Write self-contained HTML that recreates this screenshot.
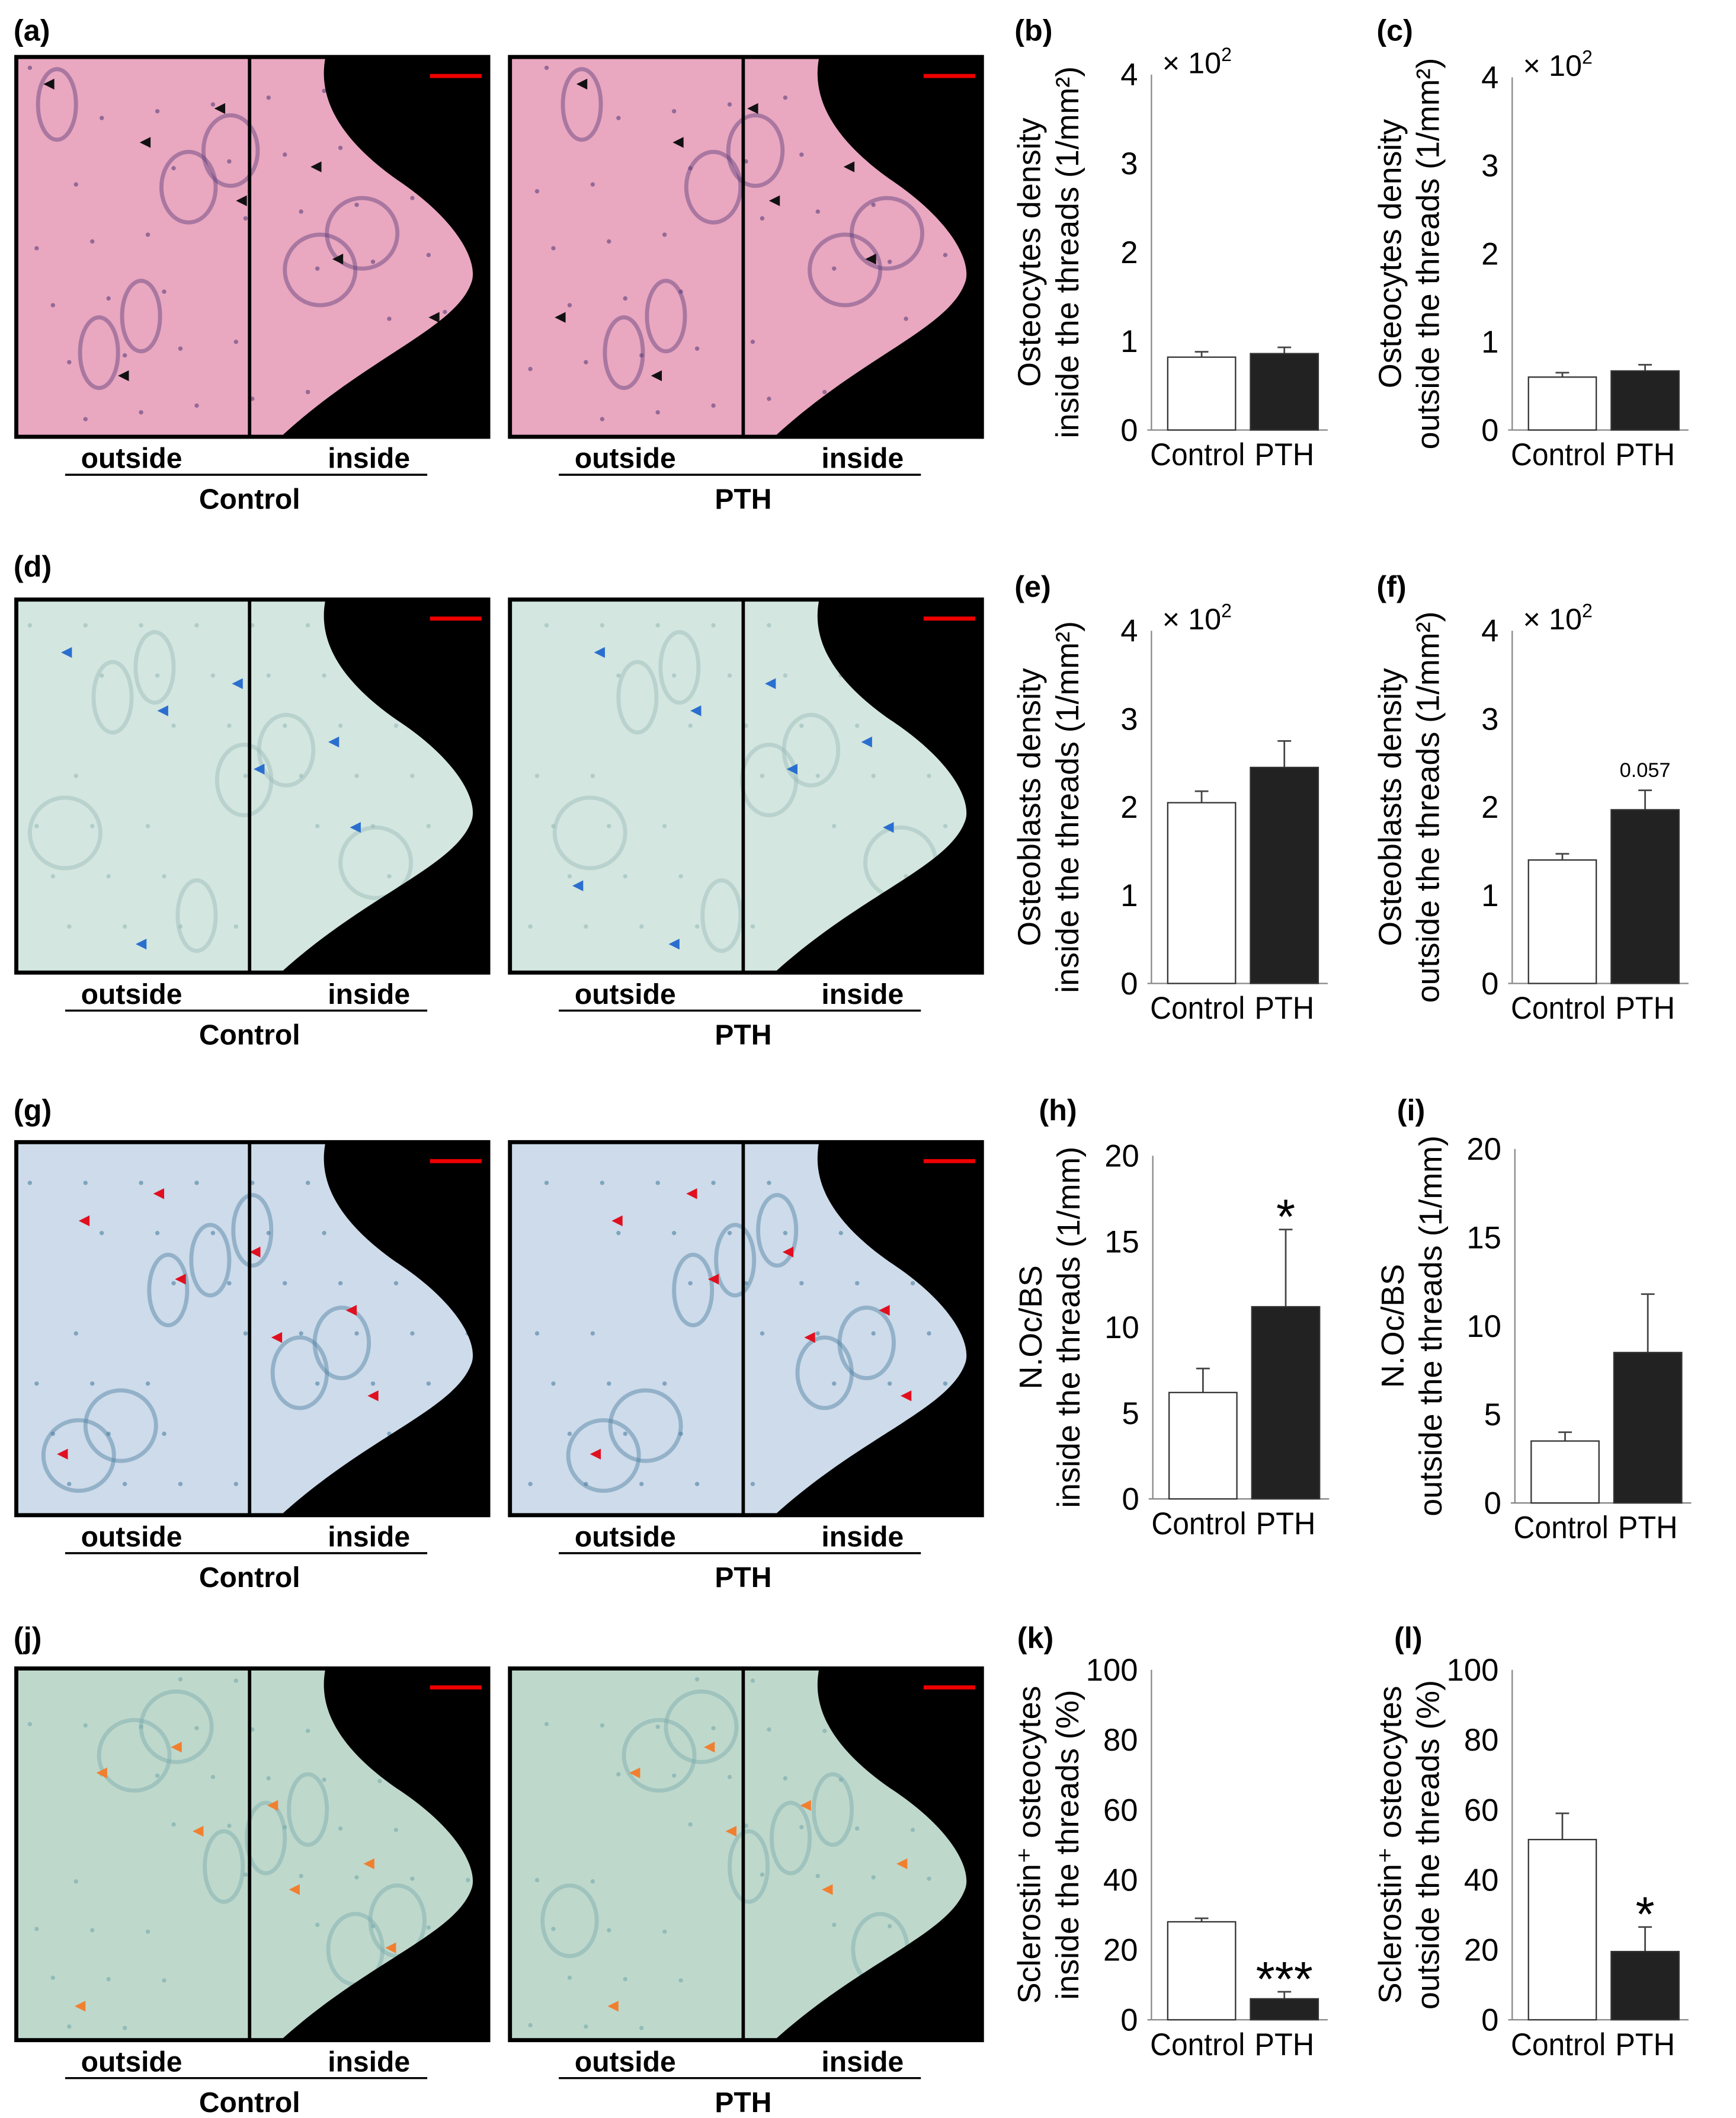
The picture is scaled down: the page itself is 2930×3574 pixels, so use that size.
<!DOCTYPE html>
<html><head><meta charset="utf-8"><style>
html,body{margin:0;padding:0;background:#fff}
svg{display:block}
text{font-family:"Liberation Sans",Arial,sans-serif}
</style></head><body>
<svg id="fig" xmlns="http://www.w3.org/2000/svg" width="2930" height="3574" viewBox="0 0 1280 1561.4">
<rect width="1280" height="1561.4" fill="#fff"/>
<g id="imgs"></g>
<g id="charts"></g>
</svg>
<script>
// ---- chart data ----
const panelLabels=["(b)","(c)","(e)","(f)","(h)","(i)","(k)","(l)"];
const categories=["Control","PTH"];
const controlValues=[0.82,0.60,2.05,1.40,6.2,3.5,28,51.5];
const pthValues=[0.86,0.67,2.45,1.97,11.2,8.5,6,19.5];
const controlErrors=[0.06,0.05,0.13,0.07,1.4,0.5,1,7.5];
const pthErrors=[0.07,0.07,0.30,0.22,4.5,3.3,2,7];
const yMaxes=[4,4,4,4,20,20,100,100];
const yTickLabels=[[0,1,2,3,4],[0,1,2,3,4],[0,1,2,3,4],[0,1,2,3,4],[0,5,10,15,20],[0,5,10,15,20],[0,20,40,60,80,100],[0,20,40,60,80,100]];
const annotations=["","","","0.057","*","","***","*"];
const titleLine1=["Osteocytes density","Osteocytes density","Osteoblasts density","Osteoblasts density","N.Oc/BS","N.Oc/BS","Sclerostin\u207A osteocytes","Sclerostin\u207A osteocytes"];
const titleLine2=["inside the threads (1/mm\u00B2)","outside the threads (1/mm\u00B2)","inside the threads (1/mm\u00B2)","outside the threads (1/mm\u00B2)","inside the threads (1/mm)","outside the threads (1/mm)","inside the threads (%)","outside the threads (%)"];
const hasMult=[1,1,1,1,0,0,0,0];

const NS="http://www.w3.org/2000/svg";
function mk(tag,attrs,parent,txt){const e=document.createElementNS(NS,tag);for(const k in attrs)e.setAttribute(k,attrs[k]);if(txt!==undefined)e.textContent=txt;parent.appendChild(e);return e;}

const geo=[
 {ax:849,top:55,bot:317,lx:748,ly:30},{ax:1115,top:57,bot:317,lx:1015,ly:30},
 {ax:849,top:465,bot:725,lx:748,ly:440},{ax:1115,top:465,bot:725,lx:1015,ly:440},
 {ax:850,top:852,bot:1105,lx:766,ly:826},{ax:1117,top:847,bot:1108,lx:1030,ly:826},
 {ax:849,top:1231,bot:1489,lx:750,ly:1215},{ax:1115,top:1231,bot:1489,lx:1028,ly:1215}];
const charts=document.getElementById('charts');
geo.forEach((g,i)=>{
 const c=mk('g',{},charts);
 
 
 const y=v=>g.bot-(v/yMaxes[i])*(g.bot-g.top);
 const pl=mk('text',{x:g.lx,y:g.ly,'font-size':22,'font-weight':'bold'},c,panelLabels[i]);
 
 
 const ax=mk('line',{x1:g.ax,y1:g.top,x2:g.ax,y2:g.bot,stroke:'#888','stroke-width':1},c);
 
 
 const xa=mk('line',{x1:g.ax-3,y1:g.bot,x2:g.ax+130,y2:g.bot,stroke:'#888','stroke-width':1},c);
 
 
 yTickLabels[i].forEach(t=>{
  const tl=mk('text',{x:g.ax-10,y:y(t)+8,'font-size':23,'text-anchor':'end'},c,String(t));
  
  
 });
 if(hasMult[i]){const m=mk('text',{x:g.ax+8,y:g.top-1,'font-size':22},c,'\u00D7 10');
  
  
  mk('tspan',{'font-size':14,dy:-9},m,'2');}
 const vals=[controlValues[i],pthValues[i]],errs=[controlErrors[i],pthErrors[i]];
 vals.forEach((v,k)=>{
  const bx=g.ax+12+k*61;
  const top=y(v+errs[k]);
  const eb=mk('line',{x1:bx+25,x2:bx+25,y1:y(v),y2:top,stroke:'#444','stroke-width':1.2},c);
  
  
  mk('line',{x1:bx+20,x2:bx+30,y1:top,y2:top,stroke:'#444','stroke-width':1.2},c);
  const r=mk('rect',{x:bx,y:y(v),width:50,height:g.bot-y(v),fill:k?'#222':'#fff',stroke:'#333','stroke-width':1},c);
  
  
  const cl=mk('text',{x:k?bx+25:bx+22,y:g.bot+26,'font-size':23,'text-anchor':'middle',textLength:k?44:70,lengthAdjust:'spacingAndGlyphs'},c,categories[k]);
  
  
 });
 if(annotations[i]){const a=annotations[i];const bx=g.ax+12+61+25;
  const top=y(pthValues[i]+pthErrors[i]);
  const an=mk('text',{x:bx,y:a==='0.057'?top-10:top+3,'font-size':a==='0.057'?15:36,'text-anchor':'middle'},c,a);
  
  }
 const tt=mk('text',{transform:`translate(${g.ax-70},${(g.top+g.bot)/2}) rotate(-90)`,'font-size':23.5,'text-anchor':'middle'},c);
 
 
 mk('tspan',{x:0,dy:-12},tt,titleLine1[i]);
 mk('tspan',{x:0,dy:28},tt,titleLine2[i]);
});

// ---- histology panels ----
const rows=[{y:42,h:280,col:'#e9a7c0',dot:'#5b3f7a',ar:'#111',lab:'(a)',ly:30},
 {y:442,h:275,col:'#d3e6df',dot:'#9bb',ar:'#2a6fd0',lab:'(d)',ly:425},
 {y:842,h:275,col:'#cddbea',dot:'#4d7fa0',ar:'#e01020',lab:'(g)',ly:826},
 {y:1230,h:274,col:'#bfd8cc',dot:'#7aa',ar:'#f08030',lab:'(j)',ly:1215}];
const imgs=document.getElementById('imgs');
rows.forEach((r,ri)=>{
 const pl=mk('text',{x:10,y:r.ly,'font-size':22,'font-weight':'bold'},imgs,r.lab);
 
 
 [[12,'Control'],[376,'PTH']].forEach(([x0,grp],gi)=>{
  const w=348,h=r.h,y0=r.y;
  const g=mk('g',{},imgs);
  
  
  mk('rect',{x:x0,y:y0,width:w,height:h,fill:r.col},g);
  for(let k=0;k<7;k++){const cx=x0+30+((k*97+ri*41+gi*23)%260),cy=y0+35+((k*61+ri*37)%(h-70));
   mk('ellipse',{cx,cy,rx:14+(k%3)*6,ry:26,fill:'none',stroke:r.dot,'stroke-width':3,opacity:0.45},g);}
  for(let k=0;k<40;k++){mk('circle',{cx:x0+10+((k*53+gi*17)%330),cy:y0+8+((k*37+ri*11)%(h-16)),r:1.6,fill:r.dot,opacity:0.6},g);}
  for(let k=0;k<8;k++){const ax=x0+20+((k*71+gi*29+ri*13)%300),ay=y0+20+((k*43+ri*19)%(h-40));
   mk('path',{d:`M${ax} ${ay} l8 -4 v8 z`,fill:r.ar},g);}
  const X=v=>x0+v*w/348,Y=v=>y0+v*h/280;
  mk('path',{d:`M${X(228)} ${Y(0)} C${X(222)} ${Y(30)} ${X(238)} ${Y(60)} ${X(280)} ${Y(90)} C${X(325)} ${Y(120)} ${X(340)} ${Y(150)} ${X(336)} ${Y(165)} C${X(325)} ${Y(200)} ${X(260)} ${Y(220)} ${X(195)} ${Y(280)} L${X(348)} ${Y(280)} L${X(348)} ${y0} Z`,fill:'#000'},g);
  mk('rect',{x:x0,y:y0,width:w,height:h,fill:'none',stroke:'#000','stroke-width':3},g);
  mk('line',{x1:x0+172,y1:y0,x2:x0+172,y2:y0+h,stroke:'#000','stroke-width':2.5},g);
  mk('line',{x1:x0+305,y1:y0+14,x2:x0+343,y2:y0+14,stroke:'#e00','stroke-width':3},g);
  const by=y0+h+28;
  const o=mk('text',{x:x0+85,y:by-5,'font-size':21,'font-weight':'bold','text-anchor':'middle'},imgs,'outside');
  
  
  const ins=mk('text',{x:x0+260,y:by-5,'font-size':21,'font-weight':'bold','text-anchor':'middle'},imgs,'inside');
  
  
  mk('line',{x1:x0+36,x2:x0+303,y1:by,y2:by,stroke:'#000','stroke-width':1.5},imgs);
  const gl=mk('text',{x:x0+172,y:by+25,'font-size':21,'font-weight':'bold','text-anchor':'middle'},imgs,grp);
  
  
 });
});
</script>
</body></html>
